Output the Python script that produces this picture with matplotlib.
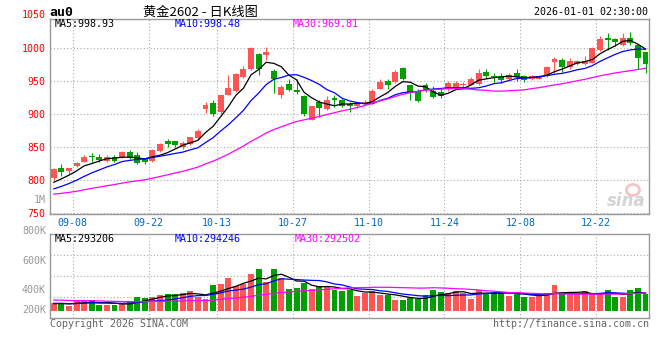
import matplotlib
matplotlib.use("Agg")
import matplotlib.pyplot as plt
from matplotlib.patches import Ellipse
import numpy as np
import pandas as pd

# daily candles, 2025-09-03 .. 2025-12-30 (trading days)
opens = [803, 819, 814, 822, 828, 836, 836, 830, 835, 835, 843, 838, 832, 829, 845, 860, 859, 850, 855, 864,
         908, 917, 904, 930, 936, 957, 968, 991, 990, 965, 929, 946, 937, 927, 892, 919, 908, 925, 922, 916,
         912, 917, 916, 939, 950, 949, 970, 944, 936, 944, 936, 934, 939, 940, 945, 945, 946, 964, 957, 958,
         953, 962, 958, 954, 954, 958, 980, 983, 972, 976, 976, 978, 998, 1015, 1014, 1005, 1016, 1005, 994]
highs = [818, 824, 819, 828, 839, 842, 840, 838, 838, 844, 846, 843, 834, 847, 857, 862, 860, 859, 866, 878,
         919, 921, 930, 959, 963, 973, 1002, 993, 1002, 968, 945, 953, 953, 929, 913, 921, 927, 929, 924, 919,
         919, 922, 939, 953, 953, 967, 972, 945, 939, 948, 943, 940, 950, 951, 949, 957, 968, 968, 962, 963,
         962, 968, 959, 959, 959, 973, 987, 985, 985, 983, 989, 1002, 1019, 1023, 1016, 1023, 1024, 1006, 995]
lows = [801, 807, 809, 820, 827, 828, 828, 827, 828, 834, 833, 824, 825, 828, 843, 851, 850, 847, 853, 861,
        902, 897, 901, 929, 934, 955, 967, 960, 982, 933, 925, 935, 931, 898, 891, 896, 907, 911, 911, 904,
        910, 916, 915, 938, 939, 948, 952, 922, 918, 934, 925, 925, 935, 939, 941, 944, 944, 954, 947, 947,
        951, 951, 949, 952, 953, 957, 963, 964, 969, 975, 975, 977, 996, 998, 1003, 1003, 1005, 968, 963]
closes = [817, 812, 818, 826, 836, 835, 831, 836, 830, 843, 835, 826, 828, 846, 855, 855, 853, 856, 865, 874,
          914, 900, 929, 940, 961, 968, 1001, 969, 995, 953, 942, 937, 934, 900, 912, 910, 922, 921, 913, 912,
          917, 918, 936, 949, 944, 964, 954, 932, 920, 938.5, 926.4, 927.3, 947.2, 947.4, 946.3, 954.2, 963.3,
          957.4, 956.2, 952.4, 960.3, 957.2, 951.4, 958.3, 957.4, 972.3, 983.2, 971.4, 981.4, 981.2, 981.3,
          1000.2, 1014.2, 1013.25, 1009.2, 1016.1, 1007.3, 985.1, 976.95]
volumes = [123000, 134000, 78000, 163000, 163000, 178000, 95000, 95000, 95000, 107000,
           167000, 234000, 218000, 234000, 262000, 279000, 279000, 290000, 330000, 224000,
           195000, 430000, 446000, 552000, 413000, 446000, 614000, 697000, 485000, 697000,
           552000, 362000, 385000, 468000, 362000, 413000, 391000, 347000, 334000, 347000,
           246000, 290000, 334000, 262000, 262000, 178000, 178000, 218000, 191000, 263500,
           348000, 319500, 291000, 335500, 291000, 196500, 348500, 291500, 313000, 302500,
           247000, 291500, 235500, 235500, 247500, 291500, 430100, 291500, 262000, 259000,
           327000, 276000, 270930, 343500, 232100, 232900, 345600, 383300, 272130]

# closes / volumes before the first shown day, needed for the moving averages
prior_closes = [774, 776, 773, 771, 770, 772, 775, 777, 778, 776, 779, 780, 778, 776, 775, 774, 776, 775, 773, 772,
                774, 775, 776, 778, 782, 786, 790, 794, 798]
prior_volumes = [224000, 215000, 234000, 196000, 187000, 205000, 219000, 201000, 191000, 210000,
                 215000, 196000, 187000, 201000, 210000, 215000, 205000, 196000, 201000, 210000,
                 140000, 131000, 126000, 131000, 121000, 117000, 112000, 120000, 112000]

tick_dates = ["09-08", "09-22", "10-13", "10-27", "11-10", "11-24", "12-08", "12-22"]
price_ticks = [750, 800, 850, 900, 950, 1000]

days = pd.bdate_range("2025-09-03", "2025-12-30")
days = days[(days < "2025-10-01") | (days > "2025-10-08")]
day_labels = list(days.strftime("%m-%d"))

RED = "#ff5555"
GREEN = "#00a000"
GRID = "#aaaaaa"
BORDER = "#999999"
MONO = "DejaVu Sans Mono"
FS = 7.2

o, h, l, c = map(np.array, (opens, highs, lows, closes))
vol = np.array(volumes)
n = len(c)
x = np.arange(n)
colors = np.where(c >= o, RED, GREEN)

all_c = pd.Series(prior_closes + closes, dtype=float)
all_v = pd.Series(prior_volumes + volumes, dtype=float)
ma = {k: all_c.rolling(k).mean().values[-n:] for k in (5, 10, 30)}
vma = {k: all_v.rolling(k).mean().values[-n:] for k in (5, 10, 30)}
ma_colors = {5: "black", 10: "blue", 30: "#ff00ff"}

W, H = 660, 360
fig = plt.figure(figsize=(W / 100, H / 100), dpi=100)


def box(left, top, right, bottom):
    return [left / W, 1 - bottom / H, (right - left) / W, (bottom - top) / H]


def ftext(px, py, s, **kw):
    kw.setdefault("family", MONO)
    kw.setdefault("fontsize", FS)
    fig.text(px / W, 1 - py / H, s, va="center", **kw)


ax = fig.add_axes(box(50, 19, 649.3, 213.7))
axv = fig.add_axes(box(50, 234.3, 649.3, 318.3))

grid_x = [day_labels.index(d) - 0.5 for d in tick_dates]

# candles
ax.vlines(x, l, h, colors=colors, lw=0.8, zorder=3)
ax.bar(x, np.maximum(np.abs(c - o), 1.2), bottom=np.minimum(o, c), width=0.78,
       color=colors, lw=0, zorder=3)
for k in (5, 10, 30):
    ax.plot(x, ma[k], color=ma_colors[k], lw=0.9, zorder=4)

ax.set_xlim(-0.5, n - 0.5)
ax.set_ylim(749.4, 1044.4)
ax.set_xticks(grid_x)
ax.set_xticklabels(tick_dates, family=MONO, fontsize=FS, color="#0066cc")
ax.set_yticks(price_ticks)
ax.set_yticklabels([str(v) for v in price_ticks], family=MONO, fontsize=FS, color="#ff0000")
ax.tick_params(length=0, pad=3)
ax.grid(True, color=GRID, lw=0.8, ls=(0, (1, 2)))

# volume
axv.bar(x, vol, width=0.78, color=colors, lw=0, zorder=3)
for k in (5, 10, 30):
    axv.plot(x, vma[k], color=ma_colors[k], lw=0.9, zorder=4)
vlo, vhi = -127000, 1276000
axv.set_xlim(-0.5, n - 0.5)
axv.set_ylim(vlo, vhi)
axv.set_xticks(grid_x)
axv.set_yticks([vlo + (vhi - vlo) * q / 4 for q in (1, 2, 3)])
axv.set_xticklabels([])
axv.set_yticklabels([])
axv.tick_params(length=0)
axv.grid(True, color=GRID, lw=0.8, ls=(0, (1, 2)))

for a in (ax, axv):
    a.set_axisbelow(True)
    for sp in a.spines.values():
        sp.set_color(BORDER)
        sp.set_linewidth(1.0)

# header
ftext(49, 12, "au0", fontsize=9.5, weight="bold")
ftext(200, 12, "黄金2602 - 日K线图", ha="center", fontsize=9.5,
      family=["Noto Sans CJK SC", "DejaVu Sans"])
ftext(648, 12, "2026-01-01 02:30:00", ha="right")
ftext(46, 15, "1050", ha="right", color="#ff0000")
ftext(46, 200, "1M", ha="right", color="#999999")

ftext(55, 24, "MA5:%.2f" % ma[5][-1], color="black")
ftext(175, 24, "MA10:%.2f" % ma[10][-1], color="blue")
ftext(293, 24, "MA30:%.2f" % ma[30][-1], color="#ff00ff")

ftext(55, 238.5, "MA5:%d" % round(vma[5][-1]), color="black")
ftext(175, 238.5, "MA10:%d" % round(vma[10][-1]), color="blue")
ftext(295, 238.5, "MA30:%d" % round(vma[30][-1]), color="#ff00ff")

for label, py in (("800K", 230.7), ("600K", 261), ("400K", 290), ("200K", 310)):
    ftext(46, py, label, ha="right", color="#999999")

# watermark and footer
fig.patches.append(Ellipse((633 / W, 1 - 190 / H), 13 / W, 11 / H, transform=fig.transFigure,
                           fill=False, ec="#f2c4c4", lw=2))
ftext(646, 201, "sina", ha="right", fontsize=12, style="italic", weight="bold",
      color="#d4d4d4", family="DejaVu Sans")
ftext(50, 324, "Copyright 2026 SINA.COM", color="#666666")
ftext(649, 324, "http://finance.sina.com.cn", ha="right", color="#666666")

fig.savefig("out.png", dpi=100)
